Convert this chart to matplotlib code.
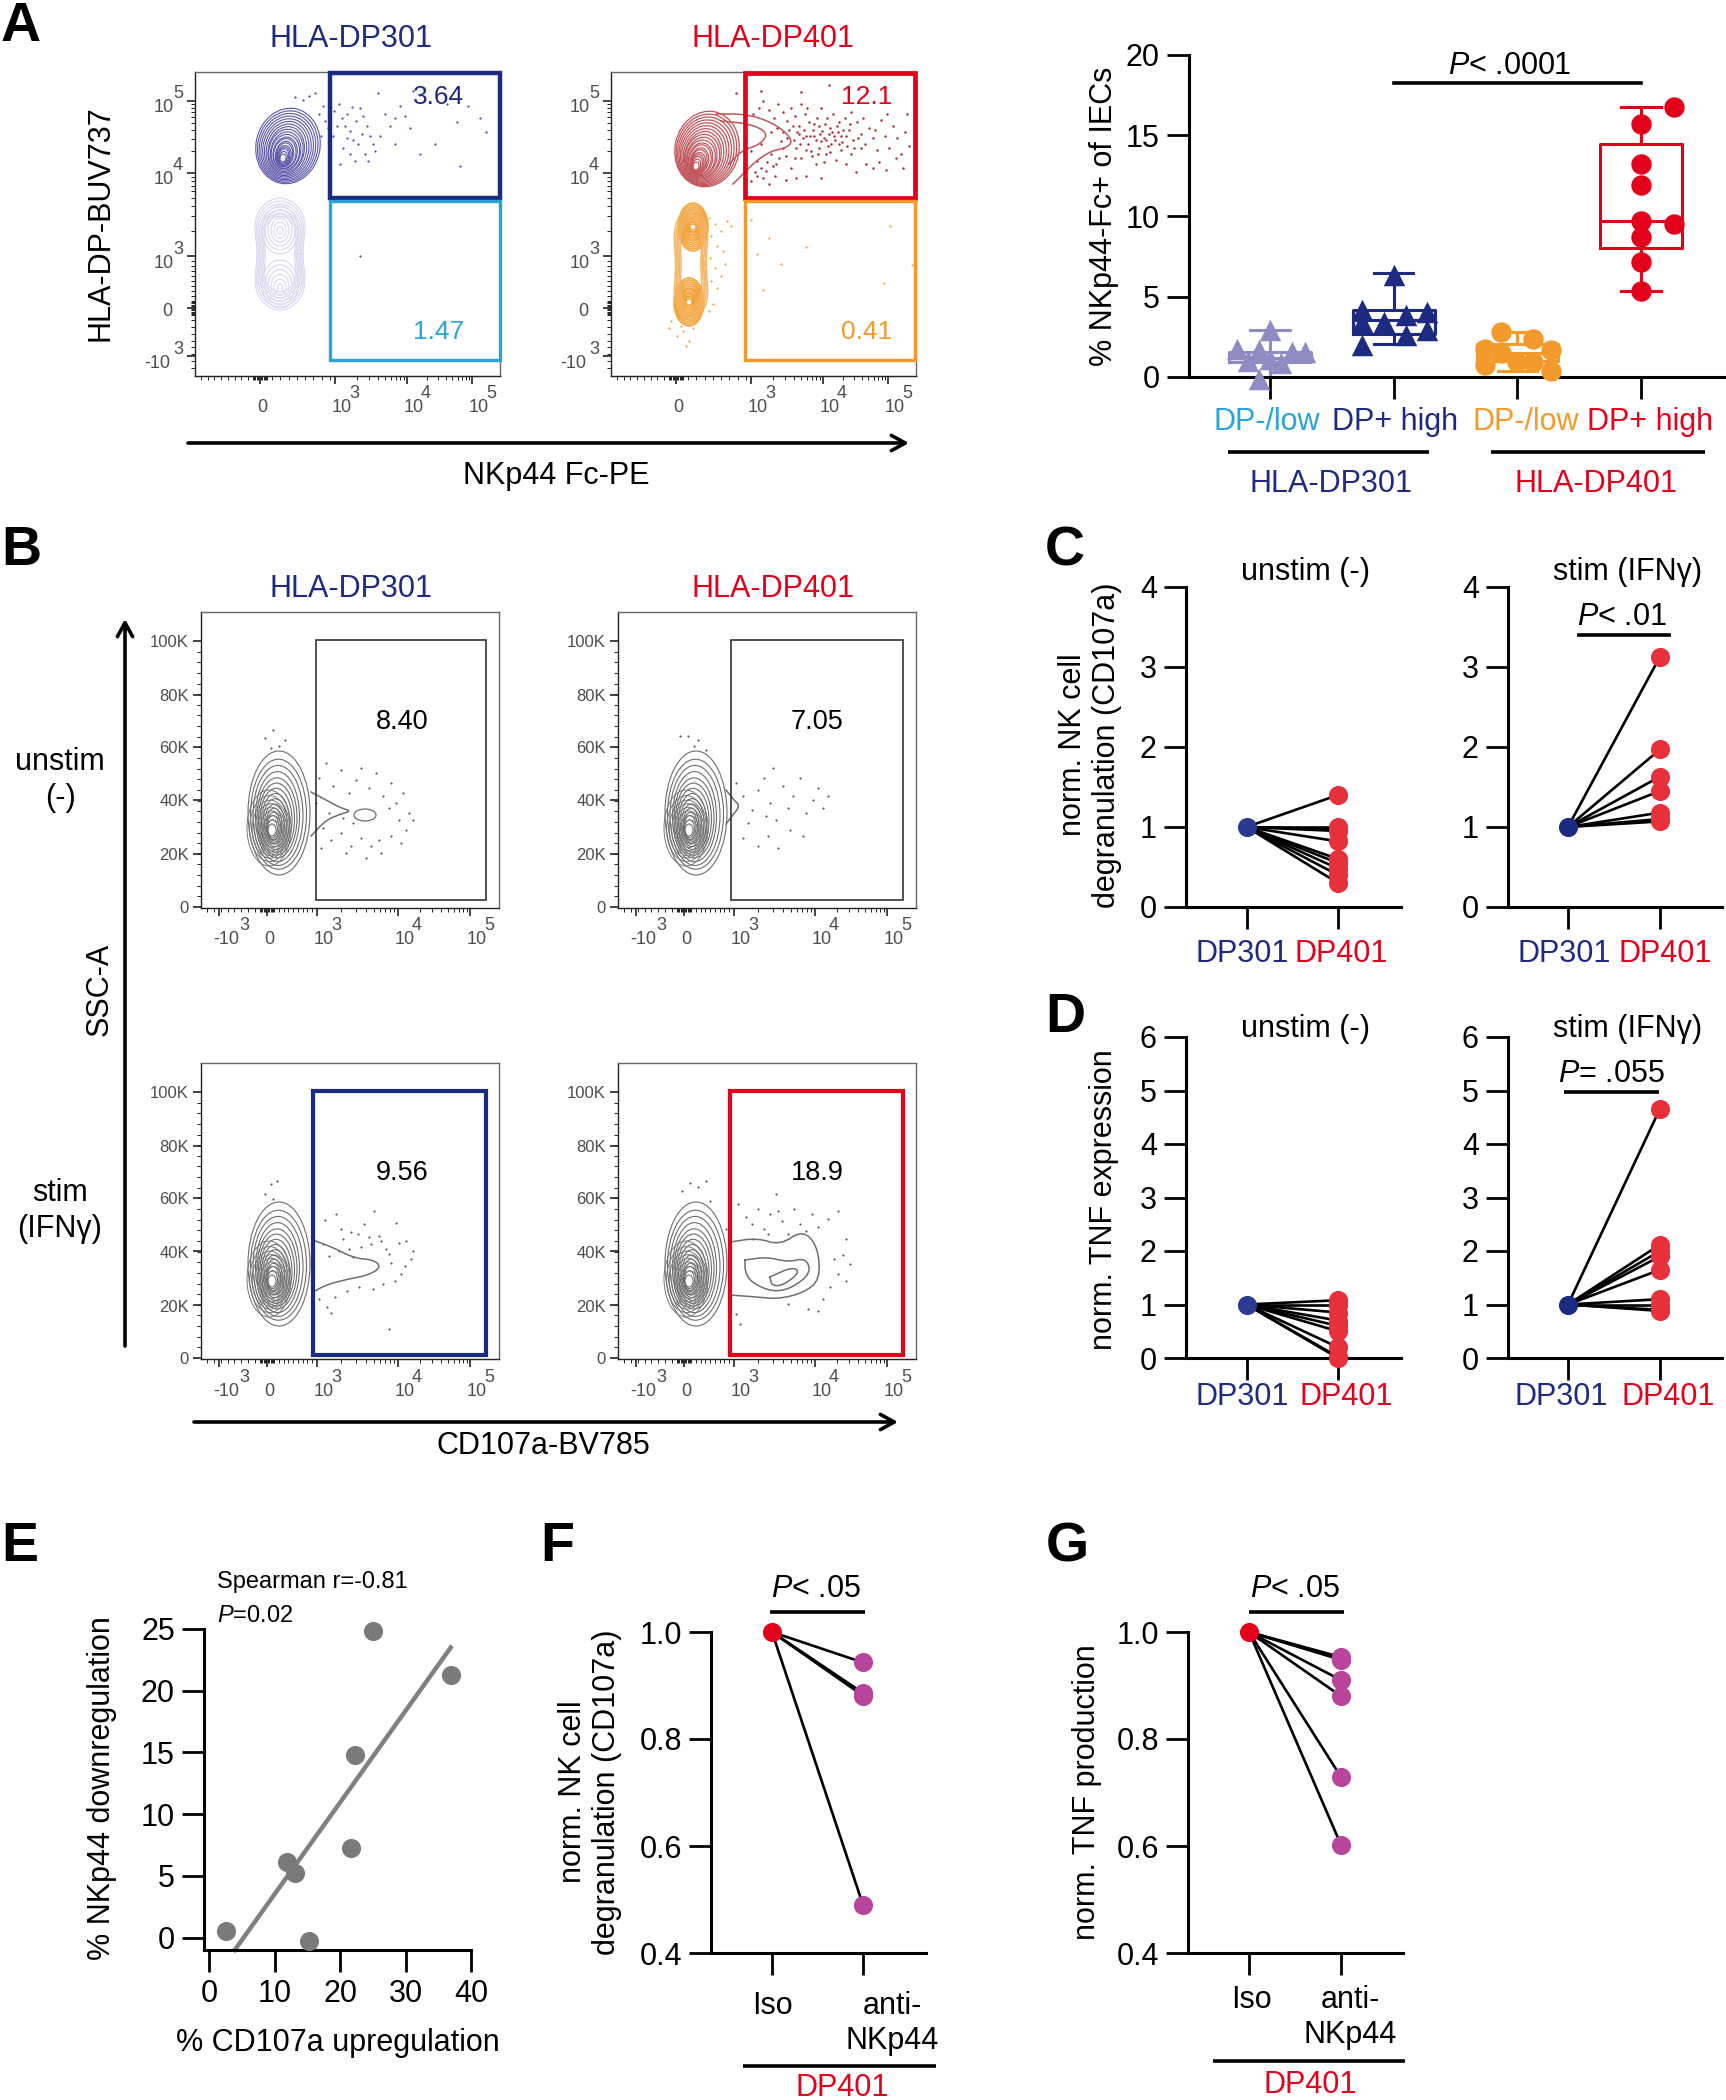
import numpy as np
import matplotlib
matplotlib.use("Agg")
import matplotlib.pyplot as plt
from matplotlib.patches import Ellipse, Rectangle

plt.rcParams['font.family'] = ['Liberation Sans', 'DejaVu Sans']
plt.rcParams['mathtext.fontset'] = 'custom'
plt.rcParams['mathtext.rm'] = 'Liberation Sans'
plt.rcParams['mathtext.it'] = 'Liberation Sans:italic'

W, H = 1726, 2100
NAVY = '#1c2a80'
RED = '#e3001b'
LBLUE = '#29a3dc'
ORANGE = '#f39a2c'
LPURPLE = '#8f8cc4'
PAIR_RED = '#e8303a'
PAIR_BLUE = '#2b3990'
MAGENTA = '#b8459a'
GREY = '#808080'

# panel A box plot
box_groups = ['DP-/low', 'DP+ high', 'DP-/low', 'DP+ high']
dp301_low = [2.9, 1.75, 1.65, 1.55, 1.55, 1.1, 1.0, 0.85, -0.1]
dp301_low_off = [0, -.265, -.09, .18, .28, 0, -.18, .09, -.09]
dp301_high = [6.33, 4.15, 4.05, 3.84, 3.42, 3.42, 2.9, 2.6, 1.97]
dp301_high_off = [0, -.26, .27, .1, -.08, -.26, .27, .1, -.26]
dp401_low = [2.8, 2.39, 1.76, 1.7, 1.5, 0.93, 0.93, 0.73, 0.37]
dp401_low_off = [-.13, .13, -.26, .27, -.13, 0, .13, -.26, .27]
dp401_high = [16.74, 15.73, 13.2, 11.9, 9.7, 9.5, 8.7, 7.15, 5.35]
dp401_high_off = [.27, 0, 0, 0, 0, .27, 0, 0, 0]
box_low = [-0.05, 2.05, 0.37, 5.35]
box_q1 = [0.95, 2.7, 1.0, 8.0]
box_med = [1.2, 3.57, 1.5, 9.7]
box_q3 = [1.55, 4.15, 2.07, 14.46]
box_high = [2.95, 6.43, 2.8, 16.74]

# panels C, D
c_unstim = [1.4, 1.0, 0.97, 0.95, 0.82, 0.6, 0.55, 0.48, 0.4, 0.3]
c_stim = [3.13, 1.97, 1.63, 1.45, 1.18, 1.1, 1.07]
d_unstim = [1.08, 1.0, 0.85, 0.7, 0.6, 0.5, 0.2, 0.02, 0.0]
d_stim = [4.66, 2.12, 2.0, 1.9, 1.65, 1.1, 1.0, 0.9, 0.88]

# panel E
e_x = [2.6, 11.9, 13.1, 15.3, 21.7, 22.2, 25.0, 36.9]
e_y = [0.5, 6.1, 5.2, -0.3, 7.3, 14.8, 24.8, 21.3]
e_fit_x = [3.9, 36.9]
e_fit_y = [-1.0, 23.5]

# panels F, G
f_anti = [0.943, 0.886, 0.884, 0.881, 0.49]
g_anti = [0.953, 0.95, 0.948, 0.91, 0.88, 0.729, 0.602]

# flow plots, everything in axis channels
a_xticks = [65, 140, 212, 277]
a_xlabels = ['0', '3', '4', '5']
a_yticks = [20, 68, 120, 203, 275]
a_ylabels = ['-3', '0', '3', '4', '5']
b_xticks = [18, 66, 116, 197, 269]
b_xlabels = ['-3', '0', '3', '4', '5']
b_yticks = [1, 54, 108, 161, 213, 267]
b_ylabels = ['0', '20K', '40K', '60K', '80K', '100K']

a1_dots = [(100,279),(108,276),(114,280),(120,283),(128,270),(124,262),(130,255),(133,248),(126,240),(135,232),
           (139,265),(144,272),(147,258),(150,250),(152,262),(155,245),(158,236),(161,255),(165,268),(168,260),
           (172,250),(175,240),(178,232),(148,228),(155,222),(160,215),(170,222),(180,225),(145,212),(152,238),
           (190,262),(195,250),(200,258),(205,270),(210,260),(215,248),(200,232),(225,222),(240,232),(262,254),
           (273,270),(285,258),(291,244),(265,210),(252,272),(218,285),(225,281),(183,283),(167,242),(173,215),
           (138,240),(142,250),(157,269),(163,232),(185,240),(165,120)]
a2_dots = [(125,283),(135,270),(142,262),(148,268),(152,275),(158,266),(163,258),(167,272),(172,264),(176,255),
           (180,268),(184,260),(188,250),(190,272),(194,262),(198,254),(202,246),(206,258),(210,268),(214,252),
           (218,242),(222,262),(226,250),(230,240),(234,258),(238,246),(242,236),(246,254),(250,242),(254,232),
           (258,248),(262,238),(266,226),(270,256),(274,240),(278,228),(282,250),(286,238),(290,222),(294,244),
           (296,262),(298,230),(140,225),(146,215),(150,232),(155,205),(160,222),(165,212),(170,235),(175,220),
           (180,208),(185,228),(190,218),(195,240),(200,225),(205,212),(210,235),(215,222),(220,232),(225,216),
           (230,226),(235,212),(240,222),(245,204),(250,228),(255,212),(262,208),(268,214),(275,206),(285,218),
           (292,208),(186,244),(192,238),(197,232),(203,240),(208,228),(213,238),(217,230),(221,244),(224,236),
           (228,232),(232,246),(236,230),(203,252),(211,245),(176,238),(172,244),(166,248),(160,244),(140,195),
           (146,200),(152,198),(135,205),(158,192),(164,200),(175,196),(185,198),(195,200),(210,198),(218,291),
           (190,284),(150,285),(182,250),(188,242),(193,246),(199,240),(205,236),(209,242),(215,236),(219,248),
           (223,240),(227,244),(231,234),(235,240),(239,252),(243,228),(247,238),(183,236),(189,232),(195,226),
           (201,220),(207,222),(213,214),(219,224),(178,246),(184,218),(172,228),(168,218),(162,210),(156,214),
           (150,208),(144,204),(196,268),(208,250),(216,258),(228,254),(240,264),(252,258),(264,246),(276,262)]
a2_low_dots = [(98,158),(104,152),(110,145),(100,140),(106,130),(112,125),(99,118),(104,108),(110,100),(100,95),
               (106,88),(116,155),(120,150),(114,112),(102,72),(98,65),(72,45),(66,40),(78,35),(75,30),(70,50),
               (82,48),(60,55),(58,48),(140,156),(158,138),(146,122),(170,112),(195,129),(279,150),(273,93),
               (152,86),(301,111)]
b1_dots = [(118,130),(125,145),(132,122),(140,138),(148,115),(155,128),(160,140),(168,120),(175,135),(182,112),
           (190,125),(195,105),(202,115),(208,95),(212,88),(198,88),(188,100),(178,68),(170,62),(160,70),(150,62),
           (140,75),(130,68),(122,80),(128,95),(142,90),(152,85),(190,72),(200,65),(180,55),(165,50),(145,55),
           (115,105),(120,60),(205,78),(64,170),(72,178),(78,162),(84,168),(70,160)]
b2_dots = [(118,125),(125,112),(134,98),(140,118),(146,130),(152,105),(158,88),(165,122),(170,100),(175,112),
           (182,130),(188,95),(195,108),(200,120),(205,100),(210,112),(150,72),(140,62),(125,70),(160,60),
           (172,78),(185,72),(130,85),(148,92),(62,172),(70,172),(76,162),(80,168),(88,158),(155,140)]
b3_dots = [(124,139),(135,145),(140,130),(150,127),(157,125),(163,135),(168,122),(173,148),(180,118),(185,110),
           (195,136),(205,118),(212,108),(210,100),(198,116),(188,105),(178,123),(170,115),(160,112),(148,110),
           (138,108),(128,103),(122,115),(142,120),(152,102),(190,96),(200,85),(204,93),(194,78),(182,75),
           (172,70),(158,72),(146,68),(134,62),(126,52),(118,60),(130,46),(188,30),(64,165),(70,175),(76,178),(72,160)]
b4_dots = [(120,155),(128,142),(134,135),(140,150),(146,130),(152,145),(158,165),(164,138),(170,125),(176,150),
           (182,135),(188,128),(194,145),(200,132),(210,140),(220,148),(228,120),(225,104),(232,95),(216,100),
           (220,85),(228,78),(212,72),(205,60),(190,50),(118,45),(122,35),(170,55),(200,48),(135,120),(150,125),
           (160,148),(64,168),(72,176),(80,172),(88,178),(92,158),(108,130)]

# contour rings, half widths and half heights
a_top_w = [32, 30, 28, 26, 24, 22, 20, 18, 17, 15, 14, 12, 11, 9, 8, 7, 6, 5, 4, 3]
a_top_h = [38, 36, 34, 32, 30, 28, 26, 24, 22, 20, 18, 16, 15, 13, 12, 10, 9, 8, 6, 4]
a1_low_w = [33, 31, 29, 27, 25, 23, 21]
a1_low_h = [56, 53, 50, 47, 44, 41, 38]
a1_lobe_w = [18, 15, 12, 9, 6, 3]
a1_lobe_h = [24, 20, 16, 12, 8, 4]
or_long_w = [22, 20, 18, 16, 14]
or_long_h = [56, 53, 50, 47, 44]
or_w = [15, 14, 13, 12, 11, 10, 9, 8, 7, 6, 5, 4, 3]
or_h = [24, 22, 20, 18, 16, 14, 13, 11, 9, 8, 6, 5, 3]
b_w = [31, 28, 25, 22, 20, 18, 16, 14, 12, 10, 8, 7, 6, 5, 4]
b_h = [62, 55, 50, 45, 40, 36, 32, 28, 24, 20, 17, 14, 12, 9, 6]
b_core_w = [22, 20, 18, 16, 14, 12, 10, 8]
b_core_h = [38, 33, 29, 26, 23, 20, 16, 12]

# contour outlines of the tails
a2_tail1 = [(105,262),(130,262),(150,258),(170,248),(182,235),(175,228),(160,225),(145,215),(135,205),(122,192)]
a2_tail2 = [(110,255),(140,252),(157,243),(150,232),(130,225),(118,212)]
b1_tail = [(110,116),(125,108),(140,100),(150,97),(140,94),(125,88),(110,72)]
b2_tail = [(108,118),(116,108),(122,102),(114,92),(108,84)]
b3_tail = [(112,119),(133,111),(153,101),(173,99),(180,92),(168,84),(143,79),(125,74),(112,67)]
b4_tail1 = [(112,117),(139,121),(162,114),(185,129),(200,112),(202,79),(185,66),(160,60),(139,62),(112,64)]
b4_tail2 = [(127,99),(149,102),(170,97),(188,101),(193,86),(174,71),(155,67),(134,76),(127,87),(127,99)]
b4_tail3 = [(152,82),(174,92),(182,87),(166,74),(154,73),(152,82)]

fig = plt.figure(figsize=(W / 100, H / 100), dpi=100)
over = fig.add_axes([0, 0, 1, 1], zorder=10)
over.set_xlim(0, W)
over.set_ylim(H, 0)
over.axis('off')


def label(x, y, s, size=22, color='black', **kw):
    over.text(x, y + 2, s, fontsize=size, color=color, ha=kw.pop('ha', 'center'), va=kw.pop('va', 'center'), **kw)


def bar(x0, x1, y, lw=2.6):
    over.plot([x0, x1], [y, y], color='black', lw=lw, solid_capstyle='butt')


def arrow(x0, y0, x1, y1):
    over.annotate('', xy=(x1, y1), xytext=(x0, y0),
                  arrowprops=dict(arrowstyle='->,head_length=1.0,head_width=0.55', lw=2.6, color='black',
                                  shrinkA=0, shrinkB=0))


def pixel_axes(x0, x1, y0, y1):
    return fig.add_axes([x0 / W, 1 - y1 / H, (x1 - x0) / W, (y1 - y0) / H])


def rings(ax, outer, inner, ws, hs, color, angle=0, lw=0.8):
    cxs = np.linspace(outer[0], inner[0], len(ws))
    cys = np.linspace(outer[1], inner[1], len(ws))
    for cx, cy, w, h in zip(cxs, cys, ws, hs):
        ax.add_patch(Ellipse((cx, cy), 2 * w, 2 * h, angle=angle, fill=False, ec=color, lw=lw))


def peanuts(ax, center, ws, hs, color, waist=0.3, lw=0.8):
    # long outer contours pinched at the middle, two populations inside
    t = np.linspace(0, 2 * np.pi, 160)
    for w, h in zip(ws, hs):
        ax.plot(center[0] + w * np.cos(t) * (1 - waist * np.cos(t) ** 6), center[1] + h * np.sin(t),
                color=color, lw=lw)


def outline(ax, pts, color, lw=0.9):
    p = np.array(pts, dtype=float)
    # corner cutting, contours are round in the picture
    for _ in range(2):
        q = p[:-1] * 0.75 + p[1:] * 0.25
        r = p[:-1] * 0.25 + p[1:] * 0.75
        p = np.vstack([p[:1], np.column_stack([q, r]).reshape(-1, 2), p[-1:]])
    ax.plot(p[:, 0], p[:, 1], color=color, lw=lw)


def dots(ax, pts, color, s=2.6):
    p = np.array(pts)
    ax.scatter(p[:, 0], p[:, 1], s=s, color=color, lw=0)


def gate(ax, x0, x1, y0, y1, color, lw):
    ax.add_patch(Rectangle((x0, y0), x1 - x0, y1 - y0, fill=False, ec=color, lw=lw, clip_on=False, zorder=5))


def flow_axes(x0, x1, y0, y1, xticks, xlabels, yticks, ylabels, kind):
    ax = pixel_axes(x0, x1, y0, y1)
    ax.set_xlim(0, x1 - x0)
    ax.set_ylim(0, y1 - y0)
    for sp in ax.spines.values():
        sp.set_color('#666666')
        sp.set_linewidth(1.0)
    ax.spines['left'].set_color('#222222')
    ax.spines['bottom'].set_color('#222222')
    ax.set_xticks(xticks)
    ax.set_yticks(yticks)
    ax.set_xticklabels([])
    ax.set_yticklabels([])
    ax.tick_params(which='major', length=6, width=1.2, color='#222222')
    ax.tick_params(which='minor', length=3, width=0.7, color='#222222')
    # log style minor ticks between the decades
    minor_x, minor_y = [], []
    for ticks, minor in ((xticks, minor_x), (yticks, minor_y)):
        if kind == 'b' and ticks is yticks:
            minor.extend(np.linspace(ticks[0], ticks[-1], 26))
            continue
        zero = ticks[list(xlabels if ticks is xticks else ylabels).index('0')]
        minor.extend(np.linspace(zero - 7, zero + 7, 13))
        decades = [t for t in ticks if t > zero]
        for lo, hi in zip(decades[:-1], decades[1:]):
            minor.extend(lo + np.log10(np.arange(2, 10)) * (hi - lo))
        minor.extend(np.linspace(zero + 12, decades[0] - 5, 8))
        minor.extend(np.linspace(zero - 12, max(zero - 60, 6), 8))
    ax.set_xticks(minor_x, minor=True)
    ax.set_yticks(minor_y, minor=True)
    grey = '#4d4d4d'
    size = 13
    for t, s in zip(xticks, xlabels):
        if s == '0':
            ax.annotate('0', xy=(t, 0), xycoords=('data', 'axes fraction'), xytext=(2, -32),
                        textcoords='offset pixels', ha='center', va='center', fontsize=size, color=grey)
            continue
        base = '-10' if s.startswith('-') else '10'
        ax.annotate(base, xy=(t, 0), xycoords=('data', 'axes fraction'), xytext=(7, -32),
                    textcoords='offset pixels', ha='center', va='center', fontsize=size, color=grey)
        ax.annotate(s.lstrip('-'), xy=(t, 0), xycoords=('data', 'axes fraction'),
                    xytext=(25 if s.startswith('-') else 19, -18),
                    textcoords='offset pixels', ha='center', va='center', fontsize=size, color=grey)
    for t, s in zip(yticks, ylabels):
        if kind == 'b':
            ax.annotate(s, xy=(0, t), xycoords=('axes fraction', 'data'), xytext=(-12, -2),
                        textcoords='offset pixels', ha='right', va='center', fontsize=12, color=grey)
        elif s == '0':
            ax.annotate('0', xy=(0, t), xycoords=('axes fraction', 'data'), xytext=(-28, -3),
                        textcoords='offset pixels', ha='center', va='center', fontsize=size, color=grey)
        else:
            neg = s.startswith('-')
            ax.annotate('-10' if neg else '10', xy=(0, t), xycoords=('axes fraction', 'data'),
                        xytext=(-38 if neg else -31, -7),
                        textcoords='offset pixels', ha='center', va='center', fontsize=size, color=grey)
            ax.annotate(s.lstrip('-'), xy=(0, t), xycoords=('axes fraction', 'data'), xytext=(-17, 7),
                        textcoords='offset pixels', ha='center', va='center', fontsize=size, color=grey)
    return ax


def prism_axes(left, right, top, bottom, first, step, ylim, yticks, ylabels=None, fs=22):
    ax = pixel_axes(left, right, top, bottom)
    ax.set_xlim((left - first) / step, (right - first) / step)
    ax.set_ylim(*ylim)
    ax.patch.set_alpha(0)
    ax.spines['top'].set_visible(False)
    ax.spines['right'].set_visible(False)
    ax.spines['left'].set_linewidth(2.2)
    ax.spines['bottom'].set_linewidth(2.2)
    ax.set_yticks(yticks)
    if ylabels is not None:
        ax.set_yticklabels(ylabels)
    ax.tick_params(axis='both', length=16, width=2.0, pad=5, labelsize=fs)
    return ax


def pairs(ax, start, ends, start_color, end_color):
    for v in ends:
        ax.plot([0, 1], [start, v], color='black', lw=1.9, zorder=3, clip_on=False)
    ax.scatter(np.ones(len(ends)), ends, s=190, color=end_color, lw=0, zorder=4, clip_on=False)
    ax.scatter([0], [start], s=190, color=start_color, lw=0, zorder=5, clip_on=False)
    ax.set_xticks([0, 1])
    ax.set_xticklabels([])


# panel letters
for s, x, y in [('A', 21, 25), ('B', 21, 549), ('C', 1065, 549), ('D', 1065, 1016),
                ('E', 20, 1545), ('F', 557, 1545), ('G', 1067, 1545)]:
    label(x, y, s, size=40, fontweight='bold')

# panel A flow
a1 = flow_axes(195, 500, 72, 376, a_xticks, a_xlabels, a_yticks, a_ylabels, 'a')
rings(a1, (93, 230), (88, 218), a_top_w, a_top_h, '#5a57a8', angle=-12)
peanuts(a1, (85, 122), a1_low_w, a1_low_h, '#d9d7ee')
rings(a1, (85, 146), (85, 146), a1_lobe_w, a1_lobe_h, '#d9d7ee')
rings(a1, (85, 92), (85, 88), a1_lobe_w, a1_lobe_h, '#d9d7ee')
dots(a1, a1_dots, '#4f4da3')
gate(a1, 135, 305, 178, 303, NAVY, 3.2)
gate(a1, 135, 305, 16, 175, LBLUE, 2.4)

a2 = flow_axes(611, 916, 72, 376, a_xticks, a_xlabels, a_yticks, a_ylabels, 'a')
rings(a2, (96, 227), (85, 210), a_top_w, a_top_h, '#c0555c', angle=-12, lw=0.9)
outline(a2, a2_tail1, '#c0555c', lw=1.1)
outline(a2, a2_tail2, '#c0555c', lw=1.1)
dots(a2, a2_dots, '#a8222e', s=3.0)
peanuts(a2, (80, 112), or_long_w, or_long_h, '#f5b565', lw=1.0)
rings(a2, (82, 149), (82, 149), or_w, or_h, '#f2a33a', lw=1.1)
rings(a2, (78, 74), (78, 74), or_w, or_h, '#f2a33a', lw=1.1)
dots(a2, a2_low_dots, '#f2a33a')
gate(a2, 134, 304, 178, 303, RED, 3.4)
gate(a2, 134, 304, 16, 175, ORANGE, 2.4)

label(351, 37, 'HLA-DP301', color=NAVY)
label(773, 37, 'HLA-DP401', color=RED)
label(100, 221, 'HLA-DP-BUV737', rotation=90)
label(439, 95, '3.64', size=19, color=NAVY)
label(439, 330, '1.47', size=19, color=LBLUE)
label(867, 95, '12.1', size=19, color=RED)
label(867, 330, '0.41', size=19, color=ORANGE)
arrow(188, 443, 909, 443)
label(556, 474, 'NKp44 Fc-PE')

# panel A box plot
ab = prism_axes(1189, 1725, 55, 377, 1270, 123.7, (0, 20), [0, 5, 10, 15, 20])
stats = [dict(whislo=lo, q1=q1, med=m, q3=q3, whishi=hi, fliers=[])
         for lo, q1, m, q3, hi in zip(box_low, box_q1, box_med, box_q3, box_high)]
box_colors = [LPURPLE, NAVY, ORANGE, RED]
box_vals = [(dp301_low, dp301_low_off, '^', 240), (dp301_high, dp301_high_off, '^', 240),
            (dp401_low, dp401_low_off, 'o', 215), (dp401_high, dp401_high_off, 'o', 215)]
for i, c in enumerate(box_colors):
    lp = dict(color=c, lw=2.2)
    ab.bxp([stats[i]], positions=[i], widths=0.66, capwidths=0.32, showfliers=False, boxprops=lp,
           medianprops=lp, whiskerprops=lp, capprops=lp, manage_ticks=False, zorder=2)
    vals, off, mk, sz = box_vals[i]
    ab.scatter(i + np.array(off), vals, marker=mk, s=sz, color=c, lw=0, zorder=3, clip_on=False)
ab.set_xticks(range(4))
ab.set_xticklabels([])
ab.plot([1, 3], [18.26, 18.26], color='black', lw=2.6, clip_on=False)
ab.set_ylabel('% NKp44-Fc+ of IECs', fontsize=22, labelpad=5)
label(1510, 64, r'$\mathit{P}$< .0001')
for s, x, c in zip(box_groups, [1267, 1395, 1526, 1650], [LBLUE, NAVY, ORANGE, RED]):
    label(x, 420, s, color=c)
bar(1228, 1429, 452)
bar(1491, 1705, 452)
label(1331, 482, 'HLA-DP301', color=NAVY)
label(1596, 482, 'HLA-DP401', color=RED)

# panel B flow
for x0, y0, pts, tails in [(201, 612, b1_dots, [b1_tail]), (618, 612, b2_dots, [b2_tail]),
                           (201, 1063, b3_dots, [b3_tail]),
                           (618, 1063, b4_dots, [b4_tail1, b4_tail2, b4_tail3])]:
    ax = flow_axes(x0, x0 + 298, y0, y0 + 296, b_xticks, b_xlabels, b_yticks, b_ylabels, 'b')
    rings(ax, (78, 95), (71, 78), b_w, b_h, '#6e6e6e', lw=0.8)
    rings(ax, (68, 80), (72, 76), b_core_w, b_core_h, '#777777', lw=0.7)
    for t in tails:
        outline(ax, t, '#6e6e6e', lw=1.1)
    dots(ax, pts, '#555555', s=2.4)
    if pts is b1_dots:
        ax.add_patch(Ellipse((164, 93), 22, 12, fill=False, ec='#6e6e6e', lw=0.9))
    if y0 == 612:
        gate(ax, 115 if x0 == 201 else 113, 285, 8, 268, '#333333', 1.2)
    else:
        gate(ax, 112, 285, 4, 268, NAVY if x0 == 201 else RED, 3.0)

label(351, 587, 'HLA-DP301', color=NAVY)
label(773, 587, 'HLA-DP401', color=RED)
label(60, 778, 'unstim\n(-)', linespacing=1.25)
label(60, 1209, 'stim\n(IFNγ)', linespacing=1.25)
label(100, 987, 'SSC-A', rotation=90)
arrow(125, 1346, 125, 619)
arrow(194, 1422, 898, 1422)
label(543, 1444, 'CD107a-BV785')
label(402, 720, '8.40', size=19.5)
label(817, 720, '7.05', size=19.5)
label(402, 1171, '9.56', size=19.5)
label(817, 1171, '18.9', size=19.5)

# panel C
c1 = prism_axes(1186, 1401, 587, 907, 1246.5, 91.5, (0, 4), [0, 1, 2, 3, 4])
pairs(c1, 1, c_unstim, PAIR_BLUE, PAIR_RED)
c2 = prism_axes(1508, 1722, 587, 907, 1568, 92, (0, 4), [0, 1, 2, 3, 4])
pairs(c2, 1, c_stim, NAVY, PAIR_RED)
label(1305, 570, 'unstim (-)')
label(1628, 570, 'stim (IFNγ)')
label(1622, 615, r'$\mathit{P}$< .01')
bar(1577, 1671, 635)
label(1090, 743, 'norm. NK cell\ndegranulation (CD107a)', rotation=90, linespacing=1.15)
label(1242, 952, 'DP301', color=NAVY)
label(1341, 952, 'DP401', color=RED)
label(1564, 952, 'DP301', color=NAVY)
label(1665, 952, 'DP401', color=RED)

# panel D
d1 = prism_axes(1186, 1401, 1037, 1358, 1246.5, 91.5, (0, 6), [0, 1, 2, 3, 4, 5, 6])
pairs(d1, 1, d_unstim, PAIR_BLUE, PAIR_RED)
d2 = prism_axes(1508, 1722, 1037, 1358, 1568, 92, (0, 6), [0, 1, 2, 3, 4, 5, 6])
pairs(d2, 1, d_stim, NAVY, PAIR_RED)
label(1305, 1027, 'unstim (-)')
label(1628, 1027, 'stim (IFNγ)')
label(1611, 1072, r'$\mathit{P}$= .055')
bar(1564, 1659, 1092)
label(1104, 1198, 'norm. TNF expression', rotation=90)
label(1242, 1395, 'DP301', color=NAVY)
label(1346, 1395, 'DP401', color=RED)
label(1561, 1395, 'DP301', color=NAVY)
label(1668, 1395, 'DP401', color=RED)

# panel E
e = pixel_axes(204, 471, 1629, 1950)
e.set_xlim(-0.8, 40)
e.set_ylim(-1, 25)
e.patch.set_alpha(0)
e.spines['top'].set_visible(False)
e.spines['right'].set_visible(False)
e.spines['left'].set_linewidth(2.2)
e.spines['bottom'].set_linewidth(2.2)
e.set_xticks([0, 10, 20, 30, 40])
e.set_yticks([0, 5, 10, 15, 20, 25])
e.tick_params(axis='both', length=16, width=2.0, pad=5, labelsize=22)
e.plot(e_fit_x, e_fit_y, color=GREY, lw=3.2, clip_on=False, zorder=2)
e.scatter(e_x, e_y, s=190, color='#7a7a7a', lw=0, zorder=3, clip_on=False)
label(338, 2041, '% CD107a upregulation')
label(102, 1786, '% NKp44 downregulation', rotation=90)
label(217, 1580, 'Spearman r=-0.81', size=17, ha='left')
label(217, 1614, r'$\mathit{P}$=0.02', size=17, ha='left')

# panel F
f = prism_axes(711, 926, 1632, 1953, 772, 91, (0.4, 1.0), [0.4, 0.6, 0.8, 1.0], ['0.4', '0.6', '0.8', '1.0'])
pairs(f, 1.0, f_anti, RED, MAGENTA)
label(816, 1587, r'$\mathit{P}$< .05')
bar(770, 865, 1612)
label(772, 2004, 'Iso')
label(892, 2004, 'anti-')
label(892, 2039, 'NKp44')
bar(743, 936, 2066)
label(842, 2086, 'DP401', color=RED)
label(590, 1790, 'norm. NK cell\ndegranulation (CD107a)', rotation=90, linespacing=1.15)

# panel G
g = prism_axes(1188, 1403, 1632, 1953, 1249, 92, (0.4, 1.0), [0.4, 0.6, 0.8, 1.0], ['0.4', '0.6', '0.8', '1.0'])
pairs(g, 1.0, g_anti, RED, MAGENTA)
label(1295, 1587, r'$\mathit{P}$< .05')
bar(1249, 1344, 1612)
label(1251, 1998, 'Iso')
label(1350, 1998, 'anti-')
label(1350, 2033, 'NKp44')
bar(1213, 1405, 2061)
label(1310, 2083, 'DP401', color=RED)
label(1087, 1790, 'norm. TNF production', rotation=90)

fig.savefig('out.png', dpi=100)
